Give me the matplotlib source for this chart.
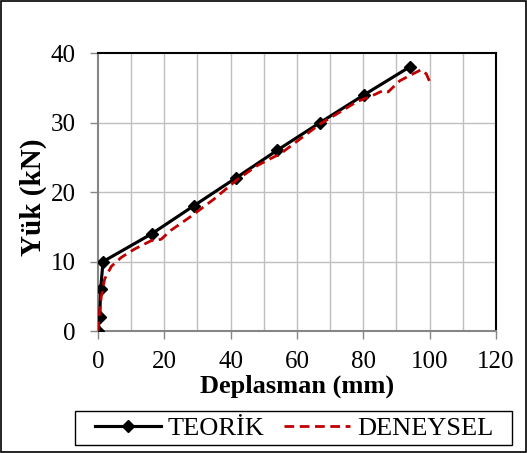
import matplotlib
matplotlib.use("Agg")
import matplotlib.pyplot as plt
from matplotlib.patches import Rectangle

teo_x = [0, 0.5, 0.8, 1.5, 16.2, 28.8, 41.5, 54, 67, 80.3, 94]
teo_y = [0, 2, 6, 10, 14, 18, 22, 26, 30, 34, 38]

exp_x = [0, 0.3, 1, 2, 4, 7, 11, 16, 19, 22, 28, 35, 42, 48, 52, 55, 60, 67, 74, 78, 82, 86, 87.5, 91, 95, 97.5, 99, 100]
exp_y = [0, 2, 5, 7.5, 9.3, 10.6, 11.8, 13, 13.2, 14.5, 16.5, 19, 21.8, 23.8, 24.8, 25.5, 27.3, 29.8, 31.8, 33, 33.7, 34.6, 34.4, 36.0, 37.0, 37.6, 37.0, 35.9]

x_ticks = [0, 20, 40, 60, 80, 100, 120]
y_ticks = [0, 10, 20, 30, 40]

plt.rcParams['font.family'] = ['Liberation Serif', 'DejaVu Serif']

W, H = 527, 453
fig = plt.figure(figsize=(W / 100, H / 100), dpi=100)
fig.patches.append(Rectangle((0.002, 0.002), 0.996, 0.996, transform=fig.transFigure,
                             fill=False, edgecolor='black', linewidth=1.2))
ax = fig.add_axes([0.186, 0.269, 0.755, 0.614])

for v in range(10, 120, 10):
    ax.axvline(v, color='#BFBFBF', lw=1.0, zorder=0)
for v in range(10, 40, 10):
    ax.axhline(v, color='#BFBFBF', lw=1.0, zorder=0)

ax.plot(teo_x, teo_y, color='black', lw=2.25, marker='D', markersize=6.5, label='TEORİK', zorder=3)
ax.plot(exp_x, exp_y, color='#C00000', lw=2.0, ls=(0, (3.5, 2)), label='DENEYSEL', zorder=4)

ax.set_xlim(0, 120)
ax.set_ylim(0, 40)
ax.set_xticks(x_ticks)
ax.set_yticks(y_ticks)
ax.tick_params(axis='both', labelsize=18, direction='out', length=6, color='#868686', width=1)
ax.tick_params(axis='y', pad=10)
ax.tick_params(axis='x', pad=8)
for s in ['left', 'bottom']:
    ax.spines[s].set_color('#868686')
    ax.spines[s].set_linewidth(1.5)
for s in ['top', 'right']:
    ax.spines[s].set_color('black')
    ax.spines[s].set_linewidth(1.5)

ax.set_xlabel('Deplasman (mm)', fontsize=19, fontweight='bold', va='center')
ax.xaxis.set_label_coords(0.5, -0.2)
ax.set_ylabel('Yük (kN)', fontsize=21, fontweight='bold', va='center')
ax.yaxis.set_label_coords(-0.163, 0.48)

# legend box
fig.patches.append(Rectangle((75 / W, 1 - 445 / H), 437 / W, 34 / H, transform=fig.transFigure,
                             fill=False, edgecolor='black', linewidth=1.0))
leg = fig.legend(loc='center', bbox_to_anchor=(0.558, 1 - 428 / H), ncol=2, fontsize=19,
                 frameon=False, handlelength=2.5, columnspacing=0.75, handletextpad=0.25,
                 borderpad=0.1, borderaxespad=0)

fig.savefig('out.png', dpi=100)
